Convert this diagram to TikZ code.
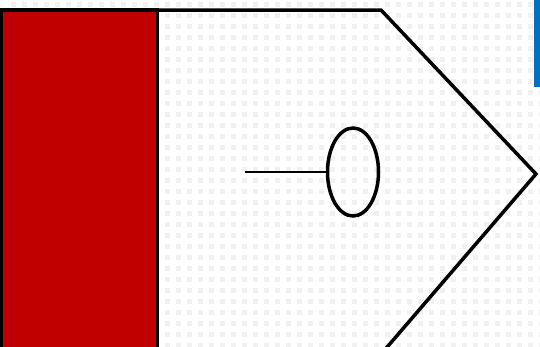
\documentclass[tikz,border=0pt]{standalone}
\usetikzlibrary{shapes.geometric}
\definecolor{darkred}{RGB}{192,0,0}
\definecolor{barblue}{RGB}{0,112,192}
\definecolor{dotgray}{RGB}{241,241,241}
\tikzset{
  outline/.style={draw=black,line width=3.5pt,line join=miter},
  thinline/.style={draw=black,line width=1.6pt},
  dotsq/.style={fill=dotgray,draw=none}
}
\begin{document}
\begin{tikzpicture}[x=1pt,y=-1pt]
\useasboundingbox (0,0) rectangle (540,346);
\fill[white] (0,0) rectangle (540,346);
\foreach \i in {0,...,48}{
  \foreach \j in {0,...,31}{
    \fill[dotsq] (11+11*\i,2+11*\j) rectangle ++(5,5);
  }
}
\fill[barblue] (534,0) rectangle (540,87);
\filldraw[fill=darkred,outline] (1.5,10) rectangle (157.5,360);
\coordinate (tl) at (157.5,10);
\coordinate (tr) at (381,10);
\coordinate (tip) at (536,174);
\coordinate (br) at (376,360);
\draw[outline] (tl) -- (tr) -- (tip) -- (br);
\node[draw=black,line width=3.5pt,ellipse,minimum width=51pt,minimum height=88pt,inner sep=0pt] (ell) at (353,172) {};
\coordinate (ls) at (245,172);
\draw[thinline] (ls) -- (ell.west);
\end{tikzpicture}
\end{document}
